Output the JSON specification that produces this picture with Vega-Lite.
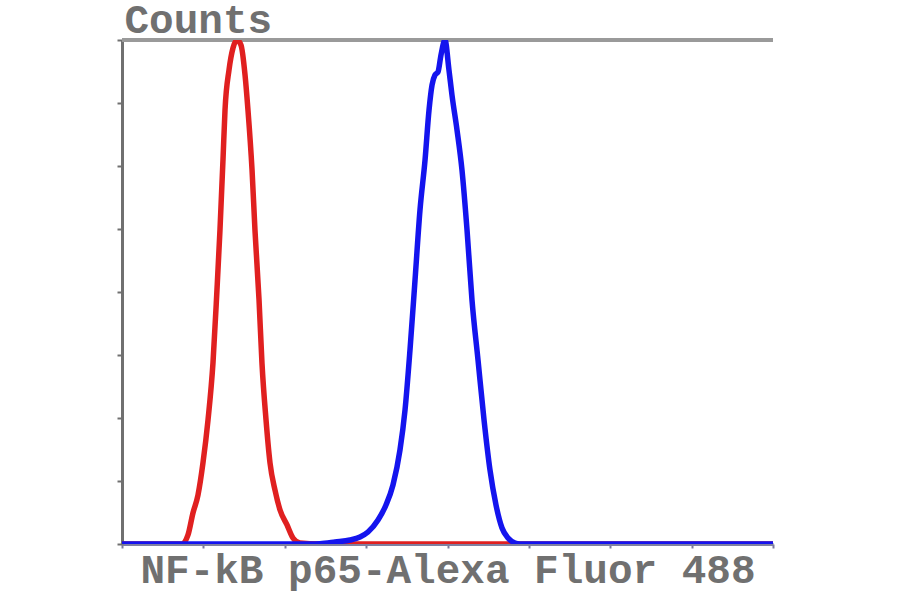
{
  "$schema": "https://vega.github.io/schema/vega-lite/v6.json",
  "autosize": {"type": "none"},
  "padding": {"left": 122, "top": 40, "right": 127, "bottom": 50},
  "width": 651,
  "height": 504,
  "background": "white",
  "config": {"view": {"stroke": null}},
  "data": {
    "values": [
      {"series": "Control", "x": 0, "count": 0},
      {"series": "Control", "x": 0.737, "count": 0},
      {"series": "Control", "x": 0.811, "count": 0.143},
      {"series": "Control", "x": 0.872, "count": 0.492},
      {"series": "Control", "x": 0.934, "count": 0.778},
      {"series": "Control", "x": 0.995, "count": 1.286},
      {"series": "Control", "x": 1.057, "count": 1.968},
      {"series": "Control", "x": 1.118, "count": 2.873},
      {"series": "Control", "x": 1.167, "count": 4.032},
      {"series": "Control", "x": 1.204, "count": 4.984},
      {"series": "Control", "x": 1.241, "count": 6.095},
      {"series": "Control", "x": 1.266, "count": 6.889},
      {"series": "Control", "x": 1.315, "count": 7.524},
      {"series": "Control", "x": 1.364, "count": 7.873},
      {"series": "Control", "x": 1.413, "count": 8.0},
      {"series": "Control", "x": 1.462, "count": 7.921},
      {"series": "Control", "x": 1.512, "count": 7.444},
      {"series": "Control", "x": 1.548, "count": 6.889},
      {"series": "Control", "x": 1.598, "count": 5.937},
      {"series": "Control", "x": 1.634, "count": 4.984},
      {"series": "Control", "x": 1.684, "count": 3.873},
      {"series": "Control", "x": 1.72, "count": 2.873},
      {"series": "Control", "x": 1.77, "count": 1.968},
      {"series": "Control", "x": 1.819, "count": 1.286},
      {"series": "Control", "x": 1.88, "count": 0.857},
      {"series": "Control", "x": 1.942, "count": 0.54},
      {"series": "Control", "x": 2.028, "count": 0.302},
      {"series": "Control", "x": 2.101, "count": 0.095},
      {"series": "Control", "x": 2.187, "count": 0.016},
      {"series": "Control", "x": 2.433, "count": 0},
      {"series": "Control", "x": 8, "count": 0},
      {"series": "NF-kB p65", "x": 0, "count": 0},
      {"series": "NF-kB p65", "x": 2.31, "count": 0},
      {"series": "NF-kB p65", "x": 2.433, "count": 0.005},
      {"series": "NF-kB p65", "x": 2.618, "count": 0.032},
      {"series": "NF-kB p65", "x": 2.802, "count": 0.063},
      {"series": "NF-kB p65", "x": 2.925, "count": 0.111},
      {"series": "NF-kB p65", "x": 3.023, "count": 0.19},
      {"series": "NF-kB p65", "x": 3.146, "count": 0.381},
      {"series": "NF-kB p65", "x": 3.244, "count": 0.619},
      {"series": "NF-kB p65", "x": 3.33, "count": 0.937},
      {"series": "NF-kB p65", "x": 3.416, "count": 1.492},
      {"series": "NF-kB p65", "x": 3.478, "count": 2.127},
      {"series": "NF-kB p65", "x": 3.539, "count": 3.079},
      {"series": "NF-kB p65", "x": 3.601, "count": 4.19},
      {"series": "NF-kB p65", "x": 3.662, "count": 5.302},
      {"series": "NF-kB p65", "x": 3.724, "count": 6.095},
      {"series": "NF-kB p65", "x": 3.773, "count": 6.889},
      {"series": "NF-kB p65", "x": 3.81, "count": 7.286},
      {"series": "NF-kB p65", "x": 3.846, "count": 7.444},
      {"series": "NF-kB p65", "x": 3.883, "count": 7.492},
      {"series": "NF-kB p65", "x": 3.92, "count": 7.762},
      {"series": "NF-kB p65", "x": 3.969, "count": 8.0},
      {"series": "NF-kB p65", "x": 4.018, "count": 7.524},
      {"series": "NF-kB p65", "x": 4.055, "count": 7.127},
      {"series": "NF-kB p65", "x": 4.117, "count": 6.571},
      {"series": "NF-kB p65", "x": 4.178, "count": 5.937},
      {"series": "NF-kB p65", "x": 4.24, "count": 4.984},
      {"series": "NF-kB p65", "x": 4.301, "count": 3.873},
      {"series": "NF-kB p65", "x": 4.375, "count": 2.921},
      {"series": "NF-kB p65", "x": 4.449, "count": 1.968},
      {"series": "NF-kB p65", "x": 4.522, "count": 1.175},
      {"series": "NF-kB p65", "x": 4.596, "count": 0.619},
      {"series": "NF-kB p65", "x": 4.67, "count": 0.254},
      {"series": "NF-kB p65", "x": 4.744, "count": 0.095},
      {"series": "NF-kB p65", "x": 4.829, "count": 0.016},
      {"series": "NF-kB p65", "x": 4.891, "count": 0},
      {"series": "NF-kB p65", "x": 8, "count": 0}
    ]
  },
  "encoding": {
    "x": {
      "field": "x",
      "type": "quantitative",
      "scale": {"domain": [0, 8], "nice": false, "zero": false},
      "axis": {
        "values": [0, 1, 2, 3, 4, 5, 6, 7, 8],
        "labels": false,
        "grid": false,
        "tickSize": 4,
        "tickWidth": 2,
        "tickColor": "#7a7a9a",
        "domainColor": "#8080a0",
        "domainWidth": 3,
        "title": "NF-kB p65-Alexa Fluor 488",
        "titleFont": "Liberation Mono",
        "titleFontSize": 41,
        "titleFontWeight": "bold",
        "titleColor": "#707070",
        "titleBaseline": "alphabetic",
        "titleY": 38
      }
    },
    "y": {
      "field": "count",
      "type": "quantitative",
      "scale": {"domain": [0, 8], "nice": false},
      "axis": {
        "values": [0, 1, 2, 3, 4, 5, 6, 7, 8],
        "labels": false,
        "grid": false,
        "tickSize": 5,
        "tickWidth": 2,
        "tickColor": "#707070",
        "domainColor": "#707070",
        "domainWidth": 3,
        "title": "Counts",
        "titleFont": "Liberation Mono",
        "titleFontSize": 41,
        "titleFontWeight": "bold",
        "titleColor": "#707070",
        "titleAngle": 0,
        "titleAlign": "left",
        "titleBaseline": "alphabetic",
        "titleX": 2,
        "titleY": -8
      }
    }
  },
  "layer": [
    {
      "mark": {"type": "rule", "color": "#9a9a9a", "strokeWidth": 3},
      "encoding": {"y": {"datum": 8}, "x": null}
    },
    {
      "transform": [{"filter": "datum.series === 'Control'"}],
      "mark": {"type": "line", "color": "#e02020", "strokeWidth": 5.5, "clip": true, "interpolate": "monotone"}
    },
    {
      "transform": [{"filter": "datum.series === 'NF-kB p65'"}],
      "mark": {"type": "line", "color": "#1414ee", "strokeWidth": 5.5, "clip": true, "interpolate": "monotone"}
    }
  ]
}
